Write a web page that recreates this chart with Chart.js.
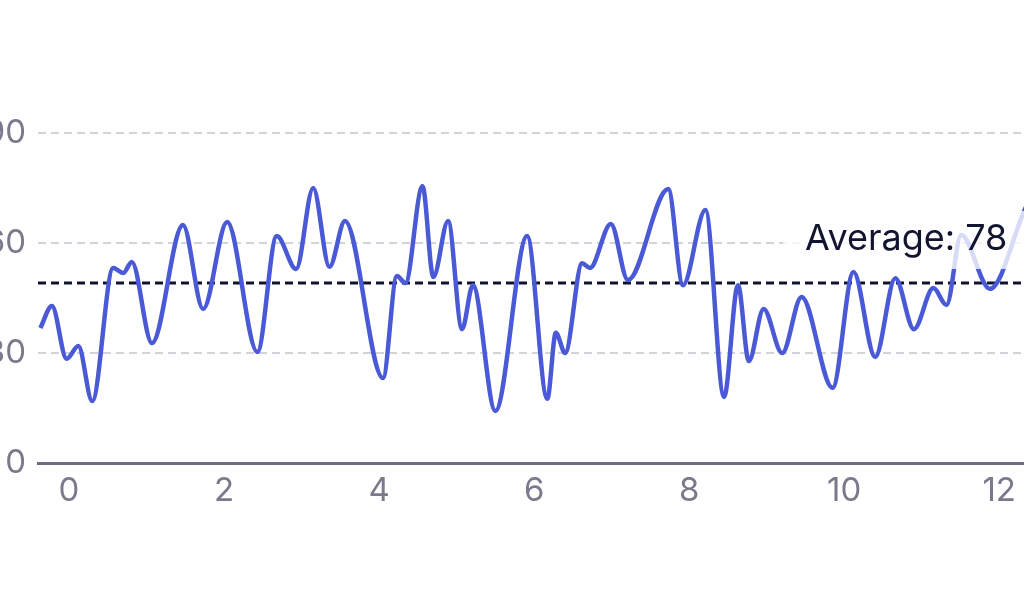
<!DOCTYPE html>
<html>
<head>
<meta charset="utf-8">
<script src="https://cdn.jsdelivr.net/npm/chart.js@4/dist/chart.umd.min.js"></script>
<style>
  html, body { margin: 0; padding: 0; background: #fff; overflow: hidden; }
  #wrap { position: absolute; left: -40px; top: 0; width: 1140px; height: 614px; }
</style>
</head>
<body>
<div id="wrap"><canvas id="chart"></canvas></div>
<script>
/* ------------------------------
   Signal line with average marker
   ------------------------------ */

// series: x positions and values
const xValues = [
    -0.37, -0.22, -0.03, 0.12, 0.30, 0.57, 0.70, 0.81, 1.07, 1.47,
    1.73, 2.04, 2.43, 2.68, 2.93, 3.15, 3.36, 3.56, 4.05, 4.23,
    4.34, 4.56, 4.70, 4.89, 5.07, 5.21, 5.50, 5.91, 6.17, 6.28,
    6.40, 6.62, 6.72, 6.99, 7.21, 7.73, 7.92, 8.21, 8.45, 8.63,
    8.77, 8.96, 9.20, 9.45, 9.85, 10.12, 10.40, 10.66, 10.90, 11.15,
    11.32, 11.51, 11.88, 12.35, 12.6
];
const yValues = [
    36.8, 42.8, 28.4, 31.9, 16.9, 53.2, 51.8, 54.8, 32.7, 64.9,
    42.0, 65.7, 30.3, 61.9, 52.9, 75.0, 53.5, 66.0, 23.2, 51.0,
    49.1, 75.5, 50.7, 66.0, 36.5, 48.5, 14.2, 61.9, 17.5, 35.5,
    30.0, 54.5, 53.2, 65.2, 49.9, 74.7, 48.5, 69.0, 18.0, 48.5,
    27.8, 42.0, 30.0, 45.3, 20.5, 52.1, 28.9, 50.4, 36.5, 47.7,
    43.1, 62.2, 47.5, 70.0, 78.0
];

// axes
const xRange = [-0.4, 13.3];
const xStep = 2;
const yTicks = [0, 30, 60, 90];

// average marker
const avgValue = 49.1;
const avgLabel = 'Average: 78';
const avgLabelX = 10.8;

const lineColor = '#4a5ad6';
const tickColor = '#7a7a8c';

const points = xValues.map((x, i) => ({ x: x, y: yValues[i] }));
const avgPoints = [{ x: xRange[0], y: avgValue }, { x: xRange[1], y: avgValue }];

// label with a translucent white box, drawn over the line
const avgLabelPlugin = {
    id: 'avgLabel',
    afterDatasetsDraw(chart) {
        const c = chart.ctx;
        const xs = chart.scales.x, ys = chart.scales.y;
        const cx = xs.getPixelForValue(avgLabelX);
        const lineY = ys.getPixelForValue(avgValue);
        c.save();
        c.font = '36px Inter';
        const w = c.measureText(avgLabel).width;
        const left = cx - w / 2 - 22;
        const right = cx + w / 2 + 22;
        const bottom = lineY - 14;
        const top = bottom - 58;
        c.fillStyle = 'rgba(255,255,255,0.78)';
        c.fillRect(left, top, right - left, bottom - top);
        c.fillStyle = '#111530';
        c.textAlign = 'center';
        c.textBaseline = 'alphabetic';
        c.fillText(avgLabel, cx, lineY - 33);
        c.restore();
    }
};

const chart = new Chart(document.getElementById('chart'), {
    type: 'line',
    data: {
        datasets: [
            {
                data: points,
                borderColor: lineColor,
                borderWidth: 4.5,
                pointRadius: 0,
                cubicInterpolationMode: 'monotone',
                fill: false,
                order: 1
            },
            {
                data: avgPoints,
                borderColor: '#10142e',
                borderWidth: 3,
                borderDash: [8, 5],
                pointRadius: 0,
                fill: false,
                order: 2
            }
        ]
    },
    options: {
        responsive: true,
        maintainAspectRatio: false,
        animation: false,
        layout: { padding: { top: 133, left: 0, right: 0, bottom: 0 } },
        plugins: { legend: { display: false }, tooltip: { enabled: false } },
        scales: {
            x: {
                type: 'linear',
                min: xRange[0],
                max: xRange[1],
                grid: { display: false, drawTicks: false },
                border: { display: true, color: '#6c6c80', width: 3 },
                ticks: {
                    stepSize: xStep,
                    includeBounds: false,
                    color: tickColor,
                    font: { family: 'Inter', size: 33 },
                    padding: 8,
                    maxRotation: 0
                },
                afterFit(scale) { scale.height = 151; }
            },
            y: {
                min: yTicks[0],
                max: yTicks[yTicks.length - 1],
                afterBuildTicks(scale) { scale.ticks = yTicks.map(v => ({ value: v })); },
                grid: { color: '#d3d3da', lineWidth: 2, drawTicks: false },
                border: { display: false, dash: [8, 5] },
                ticks: {
                    color: tickColor,
                    font: { family: 'Inter', size: 33 },
                    padding: 12
                },
                afterFit(scale) { scale.width = 78; }
            }
        }
    },
    plugins: [avgLabelPlugin]
});
</script>
</body>
</html>
